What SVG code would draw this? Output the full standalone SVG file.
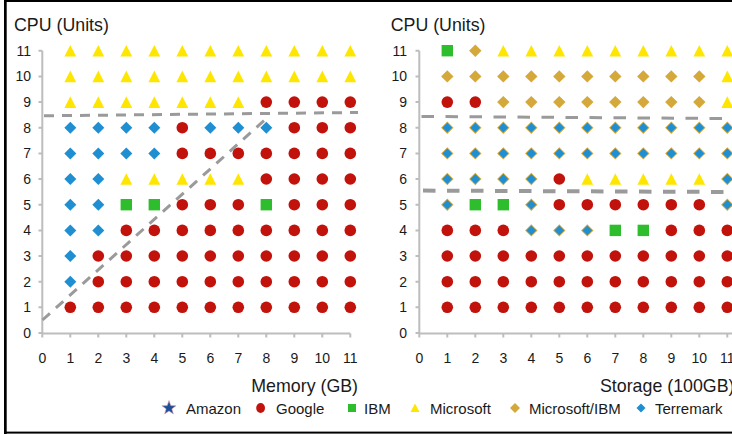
<svg xmlns="http://www.w3.org/2000/svg" width="732" height="434" viewBox="0 0 732 434">
  <style>
    text { font-family: "Liberation Sans", Arial, sans-serif; fill: #1a1a1a; }
    .title { font-size: 17.8px; }
    .tick { font-size: 14px; }
    .ylab { text-anchor: end; }
    .xlab { text-anchor: middle; }
    .legend { font-size: 15px; }
    .axis { stroke: #bdbdbd; stroke-width: 2; fill: none; }
    .google { fill: #c1120c; }
    .ibm { fill: #2dbd2d; }
    .ms { fill: #ffe600; }
    .msibm { fill: #d5a83b; }
    .terre { fill: #1f8fd2; }
    .amazon { fill: #1f4e99; stroke: #e9a2a2; stroke-width: 0.6; }
    .cut { stroke: #9a9a9a; stroke-width: 3; fill: none; stroke-dasharray: 10 8; }
    .cut-wide { stroke: #9a9a9a; stroke-width: 3; fill: none; stroke-dasharray: 12.5 11.5; }
    .frame { fill: #000; }
  </style>
  <defs>
    <!-- plot markers, centred on the data point -->
    <circle id="c" r="5.8" class="google"/>
    <rect id="s" x="-5.7" y="-5.7" width="11.4" height="11.4" class="ibm"/>
    <polygon id="t" points="0,-5.8 5.9,5.8 -5.9,5.8" class="ms"/>
    <polygon id="d" points="0,-6 6,0 0,6 -6,0" class="terre"/>
    <polygon id="g" points="0,-6.2 6.2,0 0,6.2 -6.2,0" class="msibm"/>
    <g id="b">
      <polygon points="0,-6.2 6.2,0 0,6.2 -6.2,0" class="msibm"/>
      <polygon points="0,-4.9 4.9,0 0,4.9 -4.9,0" class="terre"/>
    </g>
  </defs>

  <rect width="732" height="434" fill="#fff"/>

  <!-- outer frame: top, left and bottom edges -->
  <g id="frame">
    <rect class="frame" x="4" y="0" width="728" height="2"/>
    <rect class="frame" x="4" y="0" width="2.7" height="434"/>
    <rect class="frame" x="4" y="431.6" width="728" height="2"/>
  </g>

  <!-- ===== CPU vs Memory ===== -->
  <g id="chart-memory">
    <text class="title" x="14" y="31">CPU (Units)</text>
    <text class="title" x="358" y="392" text-anchor="end">Memory (GB)</text>
    <path class="axis" d="M42.3,50.7 V333.5 H350.3
      M38.5,50.7 H42.3 M38.5,76.4 H42.3 M38.5,102.1 H42.3 M38.5,127.7 H42.3 M38.5,153.4 H42.3 M38.5,179 H42.3
      M38.5,204.7 H42.3 M38.5,230.4 H42.3 M38.5,256 H42.3 M38.5,281.7 H42.3 M38.5,307.3 H42.3 M38.5,333 H42.3
      M42.3,333.5 V337.5 M70.3,333.5 V337.5 M98.3,333.5 V337.5 M126.3,333.5 V337.5 M154.3,333.5 V337.5 M182.3,333.5 V337.5
      M210.3,333.5 V337.5 M238.3,333.5 V337.5 M266.3,333.5 V337.5 M294.3,333.5 V337.5 M322.3,333.5 V337.5 M350.3,333.5 V337.5"/>
    <g class="tick ylab">
      <text x="31" y="55.7">11</text><text x="31" y="81.4">10</text><text x="31" y="107.1">9</text>
      <text x="31" y="132.7">8</text><text x="31" y="158.4">7</text><text x="31" y="184">6</text>
      <text x="31" y="209.7">5</text><text x="31" y="235.4">4</text><text x="31" y="261">3</text>
      <text x="31" y="286.7">2</text><text x="31" y="312.3">1</text><text x="31" y="338">0</text>
    </g>
    <g class="tick xlab">
      <text x="42.3" y="363">0</text><text x="70.3" y="363">1</text><text x="98.3" y="363">2</text>
      <text x="126.3" y="363">3</text><text x="154.3" y="363">4</text><text x="182.3" y="363">5</text>
      <text x="210.3" y="363">6</text><text x="238.3" y="363">7</text><text x="266.3" y="363">8</text>
      <text x="294.3" y="363">9</text><text x="322.3" y="363">10</text><text x="350.3" y="363">11</text>
    </g>
    <g id="points-memory">
      <g transform="translate(0,50.7)"><use href="#t" x="70.3"/><use href="#t" x="98.3"/><use href="#t" x="126.3"/><use href="#t" x="154.3"/><use href="#t" x="182.3"/><use href="#t" x="210.3"/><use href="#t" x="238.3"/><use href="#t" x="266.3"/><use href="#t" x="294.3"/><use href="#t" x="322.3"/><use href="#t" x="350.3"/></g>
      <g transform="translate(0,76.4)"><use href="#t" x="70.3"/><use href="#t" x="98.3"/><use href="#t" x="126.3"/><use href="#t" x="154.3"/><use href="#t" x="182.3"/><use href="#t" x="210.3"/><use href="#t" x="238.3"/><use href="#t" x="266.3"/><use href="#t" x="294.3"/><use href="#t" x="322.3"/><use href="#t" x="350.3"/></g>
      <g transform="translate(0,102.1)"><use href="#t" x="70.3"/><use href="#t" x="98.3"/><use href="#t" x="126.3"/><use href="#t" x="154.3"/><use href="#t" x="182.3"/><use href="#t" x="210.3"/><use href="#t" x="238.3"/><use href="#c" x="266.3"/><use href="#c" x="294.3"/><use href="#c" x="322.3"/><use href="#c" x="350.3"/></g>
      <g transform="translate(0,127.7)"><use href="#d" x="70.3"/><use href="#d" x="98.3"/><use href="#d" x="126.3"/><use href="#d" x="154.3"/><use href="#c" x="182.3"/><use href="#d" x="210.3"/><use href="#d" x="238.3"/><use href="#d" x="266.3"/><use href="#c" x="294.3"/><use href="#c" x="322.3"/><use href="#c" x="350.3"/></g>
      <g transform="translate(0,153.4)"><use href="#d" x="70.3"/><use href="#d" x="98.3"/><use href="#d" x="126.3"/><use href="#d" x="154.3"/><use href="#c" x="182.3"/><use href="#c" x="210.3"/><use href="#c" x="238.3"/><use href="#c" x="266.3"/><use href="#c" x="294.3"/><use href="#c" x="322.3"/><use href="#c" x="350.3"/></g>
      <g transform="translate(0,179)"><use href="#d" x="70.3"/><use href="#d" x="98.3"/><use href="#t" x="126.3"/><use href="#t" x="154.3"/><use href="#t" x="182.3"/><use href="#t" x="210.3"/><use href="#t" x="238.3"/><use href="#c" x="266.3"/><use href="#c" x="294.3"/><use href="#c" x="322.3"/><use href="#c" x="350.3"/></g>
      <g transform="translate(0,204.7)"><use href="#d" x="70.3"/><use href="#d" x="98.3"/><use href="#s" x="126.3"/><use href="#s" x="154.3"/><use href="#c" x="182.3"/><use href="#c" x="210.3"/><use href="#c" x="238.3"/><use href="#s" x="266.3"/><use href="#c" x="294.3"/><use href="#c" x="322.3"/><use href="#c" x="350.3"/></g>
      <g transform="translate(0,230.4)"><use href="#d" x="70.3"/><use href="#d" x="98.3"/><use href="#c" x="126.3"/><use href="#c" x="154.3"/><use href="#c" x="182.3"/><use href="#c" x="210.3"/><use href="#c" x="238.3"/><use href="#c" x="266.3"/><use href="#c" x="294.3"/><use href="#c" x="322.3"/><use href="#c" x="350.3"/></g>
      <g transform="translate(0,256)"><use href="#d" x="70.3"/><use href="#c" x="98.3"/><use href="#c" x="126.3"/><use href="#c" x="154.3"/><use href="#c" x="182.3"/><use href="#c" x="210.3"/><use href="#c" x="238.3"/><use href="#c" x="266.3"/><use href="#c" x="294.3"/><use href="#c" x="322.3"/><use href="#c" x="350.3"/></g>
      <g transform="translate(0,281.7)"><use href="#d" x="70.3"/><use href="#c" x="98.3"/><use href="#c" x="126.3"/><use href="#c" x="154.3"/><use href="#c" x="182.3"/><use href="#c" x="210.3"/><use href="#c" x="238.3"/><use href="#c" x="266.3"/><use href="#c" x="294.3"/><use href="#c" x="322.3"/><use href="#c" x="350.3"/></g>
      <g transform="translate(0,307.3)"><use href="#c" x="70.3"/><use href="#c" x="98.3"/><use href="#c" x="126.3"/><use href="#c" x="154.3"/><use href="#c" x="182.3"/><use href="#c" x="210.3"/><use href="#c" x="238.3"/><use href="#c" x="266.3"/><use href="#c" x="294.3"/><use href="#c" x="322.3"/><use href="#c" x="350.3"/></g>
    </g>
  </g>

  <!-- ===== CPU vs Storage ===== -->
  <g id="chart-storage">
    <text class="title" x="390.7" y="31">CPU (Units)</text>
    <text class="title" x="600" y="392">Storage (100GB)</text>
    <path class="axis" d="M419.3,50.7 V333.5 H732
      M415.5,50.7 H419.3 M415.5,76.4 H419.3 M415.5,102.1 H419.3 M415.5,127.7 H419.3 M415.5,153.4 H419.3 M415.5,179 H419.3
      M415.5,204.7 H419.3 M415.5,230.4 H419.3 M415.5,256 H419.3 M415.5,281.7 H419.3 M415.5,307.3 H419.3 M415.5,333 H419.3
      M419.3,333.5 V337.5 M447.3,333.5 V337.5 M475.3,333.5 V337.5 M503.3,333.5 V337.5 M531.3,333.5 V337.5 M559.3,333.5 V337.5
      M587.3,333.5 V337.5 M615.3,333.5 V337.5 M643.3,333.5 V337.5 M671.3,333.5 V337.5 M699.3,333.5 V337.5 M727.3,333.5 V337.5"/>
    <g class="tick ylab">
      <text x="407" y="55.7">11</text><text x="407" y="81.4">10</text><text x="407" y="107.1">9</text>
      <text x="407" y="132.7">8</text><text x="407" y="158.4">7</text><text x="407" y="184">6</text>
      <text x="407" y="209.7">5</text><text x="407" y="235.4">4</text><text x="407" y="261">3</text>
      <text x="407" y="286.7">2</text><text x="407" y="312.3">1</text><text x="407" y="338">0</text>
    </g>
    <g class="tick xlab">
      <text x="419.3" y="363">0</text><text x="447.3" y="363">1</text><text x="475.3" y="363">2</text>
      <text x="503.3" y="363">3</text><text x="531.3" y="363">4</text><text x="559.3" y="363">5</text>
      <text x="587.3" y="363">6</text><text x="615.3" y="363">7</text><text x="643.3" y="363">8</text>
      <text x="671.3" y="363">9</text><text x="699.3" y="363">10</text><text x="727.3" y="363">11</text>
    </g>
    <g id="points-storage">
      <g transform="translate(0,50.7)"><use href="#s" x="447.3"/><use href="#g" x="475.3"/><use href="#t" x="503.3"/><use href="#t" x="531.3"/><use href="#t" x="559.3"/><use href="#t" x="587.3"/><use href="#t" x="615.3"/><use href="#t" x="643.3"/><use href="#t" x="671.3"/><use href="#t" x="699.3"/><use href="#t" x="727.3"/></g>
      <g transform="translate(0,76.4)"><use href="#g" x="447.3"/><use href="#g" x="475.3"/><use href="#g" x="503.3"/><use href="#g" x="531.3"/><use href="#g" x="559.3"/><use href="#g" x="587.3"/><use href="#g" x="615.3"/><use href="#g" x="643.3"/><use href="#g" x="671.3"/><use href="#g" x="699.3"/><use href="#t" x="727.3"/></g>
      <g transform="translate(0,102.1)"><use href="#c" x="447.3"/><use href="#c" x="475.3"/><use href="#g" x="503.3"/><use href="#g" x="531.3"/><use href="#g" x="559.3"/><use href="#g" x="587.3"/><use href="#g" x="615.3"/><use href="#g" x="643.3"/><use href="#g" x="671.3"/><use href="#g" x="699.3"/><use href="#t" x="727.3"/></g>
      <g transform="translate(0,127.7)"><use href="#b" x="447.3"/><use href="#b" x="475.3"/><use href="#b" x="503.3"/><use href="#b" x="531.3"/><use href="#b" x="559.3"/><use href="#b" x="587.3"/><use href="#b" x="615.3"/><use href="#b" x="643.3"/><use href="#b" x="671.3"/><use href="#b" x="699.3"/><use href="#b" x="727.3"/></g>
      <g transform="translate(0,153.4)"><use href="#b" x="447.3"/><use href="#b" x="475.3"/><use href="#b" x="503.3"/><use href="#b" x="531.3"/><use href="#b" x="559.3"/><use href="#b" x="587.3"/><use href="#b" x="615.3"/><use href="#b" x="643.3"/><use href="#b" x="671.3"/><use href="#b" x="699.3"/><use href="#b" x="727.3"/></g>
      <g transform="translate(0,179)"><use href="#b" x="447.3"/><use href="#b" x="475.3"/><use href="#b" x="503.3"/><use href="#b" x="531.3"/><use href="#c" x="559.3"/><use href="#t" x="587.3"/><use href="#t" x="615.3"/><use href="#t" x="643.3"/><use href="#t" x="671.3"/><use href="#t" x="699.3"/><use href="#b" x="727.3"/></g>
      <g transform="translate(0,204.7)"><use href="#b" x="447.3"/><use href="#s" x="475.3"/><use href="#s" x="503.3"/><use href="#b" x="531.3"/><use href="#c" x="559.3"/><use href="#c" x="587.3"/><use href="#c" x="615.3"/><use href="#c" x="643.3"/><use href="#c" x="671.3"/><use href="#c" x="699.3"/><use href="#b" x="727.3"/></g>
      <g transform="translate(0,230.4)"><use href="#c" x="447.3"/><use href="#c" x="475.3"/><use href="#c" x="503.3"/><use href="#b" x="531.3"/><use href="#b" x="559.3"/><use href="#b" x="587.3"/><use href="#s" x="615.3"/><use href="#s" x="643.3"/><use href="#c" x="671.3"/><use href="#c" x="699.3"/><use href="#c" x="727.3"/></g>
      <g transform="translate(0,256)"><use href="#c" x="447.3"/><use href="#c" x="475.3"/><use href="#c" x="503.3"/><use href="#c" x="531.3"/><use href="#c" x="559.3"/><use href="#c" x="587.3"/><use href="#c" x="615.3"/><use href="#c" x="643.3"/><use href="#c" x="671.3"/><use href="#c" x="699.3"/><use href="#c" x="727.3"/></g>
      <g transform="translate(0,281.7)"><use href="#c" x="447.3"/><use href="#c" x="475.3"/><use href="#c" x="503.3"/><use href="#c" x="531.3"/><use href="#c" x="559.3"/><use href="#c" x="587.3"/><use href="#c" x="615.3"/><use href="#c" x="643.3"/><use href="#c" x="671.3"/><use href="#c" x="699.3"/><use href="#c" x="727.3"/></g>
      <g transform="translate(0,307.3)"><use href="#c" x="447.3"/><use href="#c" x="475.3"/><use href="#c" x="503.3"/><use href="#c" x="531.3"/><use href="#c" x="559.3"/><use href="#c" x="587.3"/><use href="#c" x="615.3"/><use href="#c" x="643.3"/><use href="#c" x="671.3"/><use href="#c" x="699.3"/><use href="#c" x="727.3"/></g>
    </g>
  </g>

  <!-- dashed boundary lines drawn over both plots -->
  <g id="connectors">
    <line class="cut" x1="44" y1="115.8" x2="358" y2="112.5"/>
    <line class="cut" x1="42.5" y1="320" x2="268" y2="117"/>
    <line class="cut-wide" x1="421.5" y1="116.4" x2="732" y2="118.6"/>
    <line class="cut-wide" x1="423" y1="190.6" x2="732" y2="192" style="stroke-width:4"/>
  </g>

  <!-- provider key -->
  <g id="legend">
    <polygon class="amazon" points="169,400.5 170.8,405.6 176.1,405.7 171.9,408.9 173.4,414 169,411 164.6,414 166.1,408.9 161.9,405.7 167.2,405.6"/>
    <text class="legend" x="186" y="413.5">Amazon</text>
    <ellipse class="google" cx="260.6" cy="408" rx="4.4" ry="5"/>
    <text class="legend" x="276" y="413.5">Google</text>
    <rect class="ibm" x="348" y="404" width="8" height="8"/>
    <text class="legend" x="364" y="413.5">IBM</text>
    <polygon class="ms" points="415,403.5 419.5,412 410.5,412"/>
    <text class="legend" x="430" y="413.5">Microsoft</text>
    <polygon class="msibm" points="515,403 520,408 515,413 510,408"/>
    <text class="legend" x="529" y="413.5">Microsoft/IBM</text>
    <polygon class="terre" points="641,403.5 645.5,408 641,412.5 636.5,408"/>
    <text class="legend" x="655" y="413.5">Terremark</text>
  </g>
</svg>
